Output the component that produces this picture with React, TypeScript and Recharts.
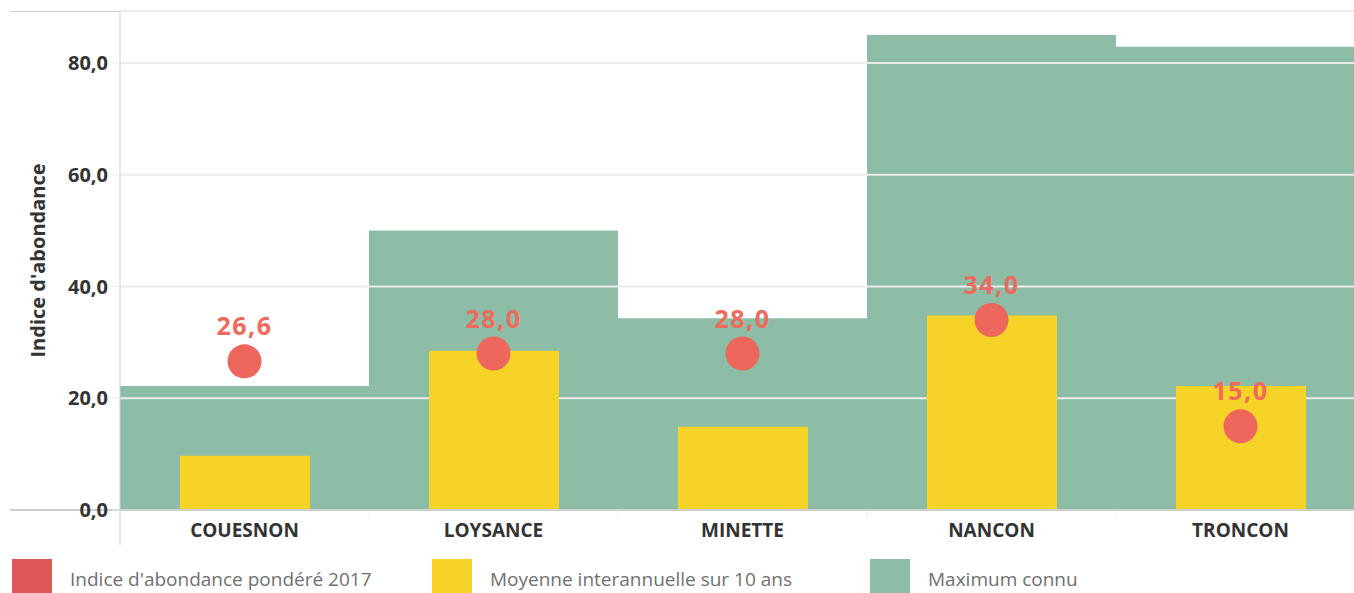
import React from "react";
import {
  ComposedChart,
  Bar,
  Line,
  XAxis,
  YAxis,
  CartesianGrid,
} from "recharts";

// Stations and values
const stations = ["COUESNON", "LOYSANCE", "MINETTE", "NANCON", "TRONCON"];
const indice2017 = [26.6, 28.0, 28.0, 34.0, 15.0];
const moyenne10ans = [9.7, 28.5, 14.9, 34.8, 22.2];
const maximumConnu = [22.2, 50.0, 34.3, 85.0, 82.9];
const yTicks = [0, 20, 40, 60, 80];

const legendItems = [
  { label: "Indice d'abondance pondéré 2017", color: "#e05757" },
  { label: "Moyenne interannuelle sur 10 ans", color: "#f5d327" },
  { label: "Maximum connu", color: "#8dbda6" },
];

const chartData = stations.map((station, i) => ({
  station,
  indice: indice2017[i],
  moyenne: moyenne10ans[i],
  maximum: maximumConnu[i],
}));

const fmt = (v: number) => v.toFixed(1).replace(".", ",");

const StationTick = (props: any) => {
  const { x, y, payload, index } = props;
  const half = payload && payload.offset ? payload.offset : 124.4;
  const left = x - half;
  return (
    <g>
      <line
        x1={left}
        x2={left}
        y1={y}
        y2={index === 0 ? y + 35 : y + 8}
        stroke={index === 0 ? "#cccccc" : "#eeeeee"}
        strokeWidth={1}
      />
      <text
        x={x}
        y={y + 27}
        textAnchor="middle"
        fill="#333"
        fontSize={19}
        fontWeight="bold"
      >
        {payload.value}
      </text>
    </g>
  );
};

const IndiceDot = (props: any) => {
  const { cx, cy, index, payload } = props;
  if (cx == null || cy == null) return <g key={`d-${index}`} />;
  return (
    <g key={`d-${index}`}>
      <circle cx={cx} cy={cy} r={17} fill="#ee675c" />
      <text
        x={cx}
        y={cy - 26}
        textAnchor="middle"
        fill="#ee6a5c"
        fontSize={25}
        fontWeight="bold"
        letterSpacing={1.5}
      >
        {fmt(payload.indice)}
      </text>
    </g>
  );
};

const YLabel = (props: any) => {
  const { viewBox } = props;
  const cx = viewBox.x + 37;
  const cy = viewBox.y + viewBox.height / 2;
  return (
    <text
      x={cx}
      y={cy}
      transform={`rotate(-90, ${cx}, ${cy})`}
      textAnchor="middle"
      dominantBaseline="central"
      fill="#333"
      fontSize={20}
      fontWeight="bold"
    >
      Indice d'abondance
    </text>
  );
};

export default function App() {
  return (
    <div
      style={{
        position: "absolute",
        left: 0,
        top: 0,
        width: 1354,
        height: 593,
        overflow: "hidden",
        background: "#fff",
        fontFamily: "'Open Sans', sans-serif",
      }}
    >
      <div
        style={{
          position: "absolute",
          left: 10,
          right: 0,
          top: 11,
          height: 1,
          background: "#cccccc",
        }}
      />
      <div
        style={{
          position: "absolute",
          left: 10,
          width: 111,
          top: 509,
          height: 2,
          background: "#cfcfcf",
        }}
      />
      <ComposedChart
        width={1365}
        height={593}
        data={chartData}
        margin={{ top: 11, right: 0, bottom: 43, left: 0 }}
        barCategoryGap={0}
        barGap={0}
      >
        <XAxis
          xAxisId="max"
          dataKey="station"
          height={40}
          tickSize={0}
          tickMargin={0}
          tickLine={false}
          axisLine={{ stroke: "#cfcfcf", strokeWidth: 2 }}
          tick={<StationTick />}
          interval={0}
        />
        <XAxis xAxisId="avg" dataKey="station" hide height={0} />
        <YAxis
          domain={[0, 89.3]}
          ticks={yTicks}
          width={120}
          tickSize={8}
          tickMargin={4}
          tickLine={{ stroke: "#eeeeee" }}
          axisLine={{ stroke: "#cccccc" }}
          tickFormatter={fmt}
          tick={{ fill: "#333", fontSize: 20, fontWeight: "bold" }}
          label={<YLabel />}
          allowDataOverflow
        />
        <Bar
          xAxisId="max"
          dataKey="maximum"
          fill="#8dbda6"
          isAnimationActive={false}
          zIndex={-150}
        />
        <CartesianGrid
          xAxisId="max"
          vertical={false}
          stroke="#ececec"
          strokeWidth={2}
        />
        <Bar
          xAxisId="avg"
          dataKey="moyenne"
          fill="#f5d327"
          barSize={130}
          isAnimationActive={false}
        />
        <Line
          xAxisId="max"
          dataKey="indice"
          stroke="none"
          dot={IndiceDot}
          activeDot={false}
          isAnimationActive={false}
        />
      </ComposedChart>
      <div
        style={{
          position: "absolute",
          left: 12,
          top: 559,
          display: "flex",
          alignItems: "center",
        }}
      >
        {legendItems.map((item, i) => (
          <div
            key={item.label}
            style={{
              display: "flex",
              alignItems: "center",
              width: i === 0 ? 420 : i === 1 ? 438 : 300,
            }}
          >
            <div
              style={{ width: 40, height: 40, background: item.color }}
            />
            <span
              style={{
                marginLeft: 18,
                fontSize: 19,
                color: "#707070",
                lineHeight: "40px",
              }}
            >
              {item.label}
            </span>
          </div>
        ))}
      </div>
    </div>
  );
}
